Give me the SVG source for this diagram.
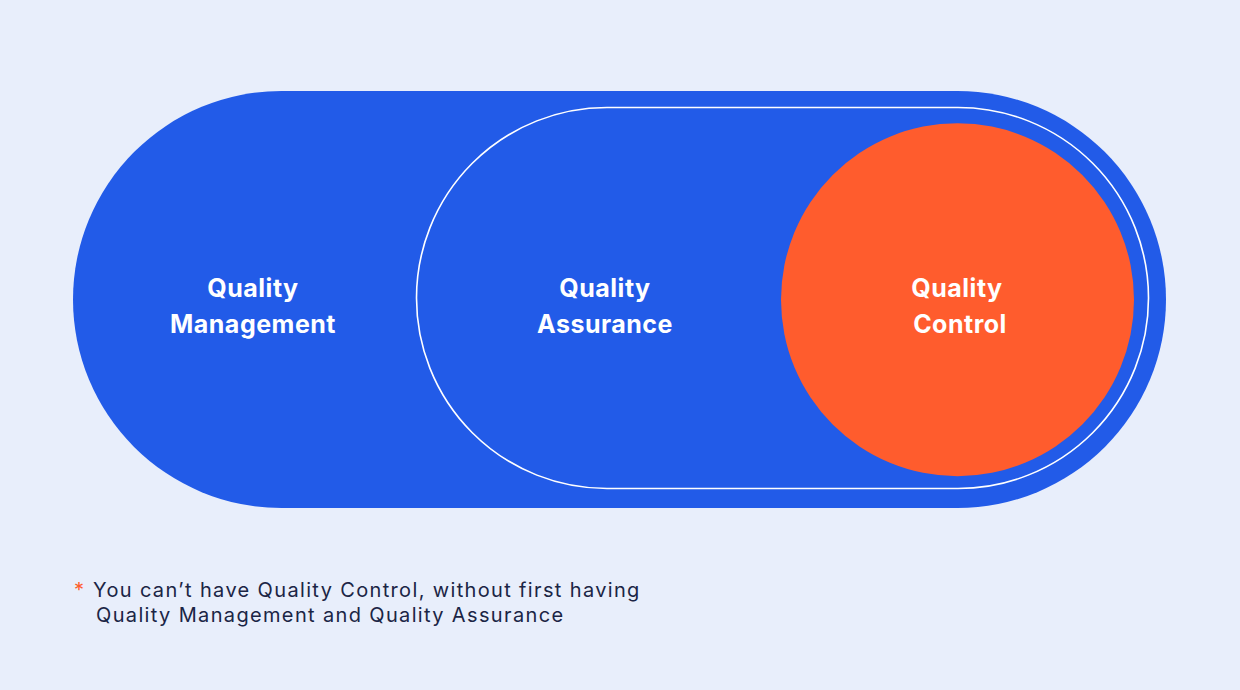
<svg xmlns="http://www.w3.org/2000/svg" width="1240" height="690" viewBox="0 0 1240 690">
<style>
.lbl{font-family:Inter,"Liberation Sans",sans-serif;font-weight:700;font-size:25px;letter-spacing:0.5px;fill:#ffffff;text-anchor:middle}
.note{font-family:Inter,"Liberation Sans",sans-serif;font-size:20px;letter-spacing:1.35px;fill:#1b2545}
</style>
<rect width="1240" height="690" fill="#E8EEFB"/>
<g id="quality-management">
<rect x="73" y="91" width="1093" height="417" rx="208.5" fill="#225BE8"/>
<text class="lbl" x="253" y="297">Quality</text>
<text class="lbl" x="253" y="333">Management</text>
</g>
<g id="quality-assurance">
<rect x="416.5" y="107.5" width="732" height="381" rx="190.5" fill="none" stroke="#ffffff" stroke-width="1.6"/>
<text class="lbl" x="605" y="297">Quality</text>
<text class="lbl" x="605" y="333">Assurance</text>
</g>
<g id="quality-control">
<circle cx="957.5" cy="299.7" r="176.5" fill="#FF5C2D"/>
<text class="lbl" x="957" y="297">Quality</text>
<text class="lbl" x="960" y="333">Control</text>
</g>
<g id="connectors"/>
<g id="footnote">
<text x="74" y="597" font-family="Inter,'Liberation Sans',sans-serif" font-size="20" fill="#FF5C2D">*</text>
<text class="note" x="93" y="597">You can’t have Quality Control, without first having</text>
<text class="note" x="96" y="622">Quality Management and Quality Assurance</text>
</g>
</svg>
